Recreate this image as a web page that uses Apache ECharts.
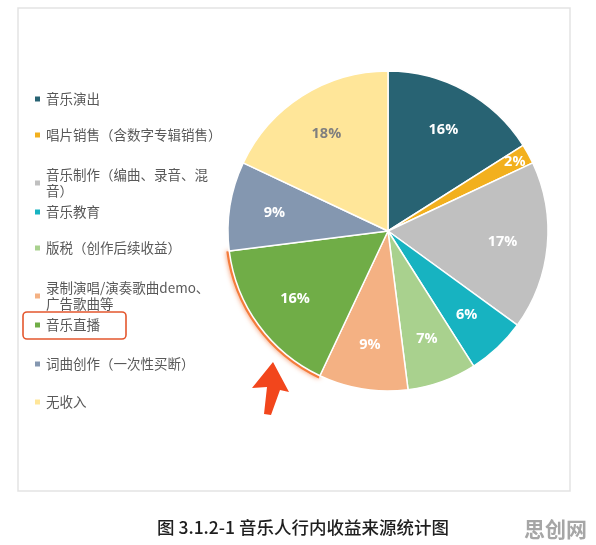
<!DOCTYPE html>
<html>
<head>
<meta charset="utf-8">
<script src="https://cdn.jsdelivr.net/npm/echarts@6/dist/echarts.min.js"></script>
<style>
html,body{margin:0;padding:0;background:#fff;}
#chart{width:596px;height:545px;}
</style>
</head>
<body>
<div id="chart"></div>
<script>
const categories = ['音乐演出','唱片销售（含数字专辑销售）','音乐制作（编曲、录音、混音）','音乐教育','版税（创作后续收益）','录制演唱/演奏歌曲demo、广告歌曲等','音乐直播','词曲创作（一次性买断）','无收入'];
const legendText = ['音乐演出','唱片销售（含数字专辑销售）','音乐制作（编曲、录音、混\n音）','音乐教育','版税（创作后续收益）','录制演唱/演奏歌曲demo、\n广告歌曲等','音乐直播','词曲创作（一次性买断）','无收入'];
const shares = [16,2,17,6,7,9,16,9,18];
const colors = ['#286373','#f2b01e','#c0c0c0','#17b3c1','#a9d18e','#f4b183','#70ad47','#8497b0','#ffe699'];
const labelColors = ['#fff','#fff','#fff','#fff','#fff','#fff','#fff','#fff','#7f7f7f'];
const highlightName = '音乐直播';
const captionText = '图 3.1.2-1 音乐人行内收益来源统计图';
const watermarkText = '思创网';

const FONT = '"Noto Sans CJK SC","Noto Sans",sans-serif';
const legendFirstLine = [99,135,175,212,248,288,325,364,402];

const chart = echarts.init(document.getElementById('chart'), null, {renderer:'canvas'});

const legends = categories.map((name, i) => ({
  orient:'vertical', left:33, top: legendFirstLine[i] - 8,
  padding:0, itemWidth:7, itemHeight:7, itemGap:0,
  icon:'rect', selectedMode:false,
  data:[name],
  formatter: () => legendText[i],
  textStyle:{fontFamily:FONT, fontSize:13.5, color:'#595959', lineHeight:16}
}));

const mainData = categories.map((name,i)=>({name, value:shares[i], itemStyle:{color:colors[i]}}));
const labelData = categories.map((name,i)=>({
  name, value:shares[i],
  itemStyle:{color:'rgba(0,0,0,0)'},
  label:Object.assign({color:labelColors[i]}, name==='唱片销售（含数字专辑销售）' ? {offset:[26,-14]} : {})
}));
const glowData = categories.map((name,i)=>({
  name, value:shares[i],
  itemStyle: name===highlightName
    ? {color:'#f47c3c', shadowColor:'rgba(240,110,50,0.8)', shadowBlur:5}
    : {color:'rgba(0,0,0,0)'}
}));

chart.setOption({
  animation:false,
  backgroundColor:'#fff',
  title:[
    {text:captionText, left:152, top:514, textStyle:{fontFamily:FONT, fontSize:17.5, fontWeight:500, color:'#1e1e1e'}},
    {text:watermarkText, left:519, top:514, textStyle:{fontFamily:FONT, fontSize:21, fontWeight:'bold', color:'#a6a6a6'}}
  ],
  legend: legends,
  graphic:[
    {type:'rect', silent:true, z:-1, shape:{x:18, y:8, width:552, height:483}, style:{fill:'#fff', stroke:'#e3e3e3', lineWidth:1.5}},
    {type:'rect', silent:true, shape:{x:23, y:312, width:103, height:27, r:4}, style:{fill:'none', stroke:'#e4572e', lineWidth:1.6}},
    {type:'polygon', silent:true, z:10, shape:{points:[[273,362],[289,392],[280,390],[271,415],[264,414],[267,387],[252,388]]}, style:{fill:'#f2461c'}}
  ],
  series:[
    {
      type:'pie', center:[388,231], radius:[0,160], startAngle:90, clockwise:true,
      silent:true, label:{show:false}, labelLine:{show:false},
      itemStyle:{borderColor:'#fff', borderWidth:1.5},
      data:mainData
    },
    {
      type:'pie', center:[388,231], radius:[159,163], startAngle:90, clockwise:true,
      silent:true, label:{show:false}, labelLine:{show:false}, z:1,
      data:glowData
    },
    {
      type:'pie', center:[388,231], radius:[64,160], startAngle:90, clockwise:true,
      silent:true, labelLine:{show:false}, z:3,
      label:{show:true, position:'inside', formatter:'{c}%', fontFamily:'"Open Sans","Noto Sans",sans-serif', fontSize:14.5, fontWeight:'bold'},
      data:labelData
    }
  ]
});
</script>
</body>
</html>
